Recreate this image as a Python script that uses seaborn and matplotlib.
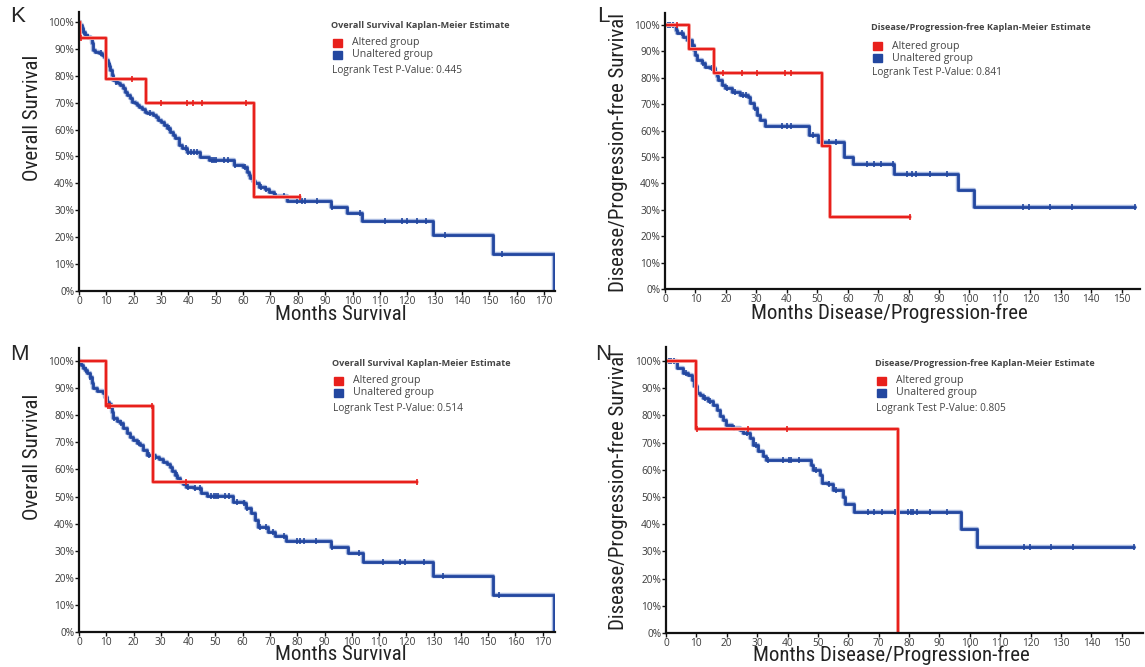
import numpy as np
import pandas as pd
import matplotlib
matplotlib.use("Agg")
import matplotlib.pyplot as plt
import matplotlib.patheffects as pe
from matplotlib import font_manager as fm
from matplotlib.patches import Rectangle
from matplotlib.ticker import PercentFormatter
import seaborn as sns

# ---- data (months, survival fraction) ----
# K: overall survival, gene 1
k_altered = [(0, 1.0), (0.5, 0.94), (9.9, 0.788), (24.4, 0.70), (63.8, 0.35)]
k_altered_cens = [0.8, 19.3, 30.0, 39.4, 41.6, 44.9, 61.2, 80.7]
k_unaltered = [(0, 1.0), (0.5, 0.99), (1.0, 0.976), (1.6, 0.964), (2.2, 0.952), (3.0, 0.945),
               (4.0, 0.939), (4.6, 0.92), (5.2, 0.896), (6.0, 0.89), (7.2, 0.883), (8.3, 0.877),
               (9.2, 0.868), (9.9, 0.859), (10.5, 0.847), (11.0, 0.835), (11.4, 0.822), (12.0, 0.803),
               (12.6, 0.784), (13.5, 0.778), (14.3, 0.772), (15.0, 0.766), (16.0, 0.754), (16.8, 0.741),
               (17.5, 0.729), (18.5, 0.716), (19.5, 0.704), (20.3, 0.697), (21.1, 0.691), (22.0, 0.685),
               (23.0, 0.678), (24.0, 0.666), (24.8, 0.660), (27.2, 0.654), (28.2, 0.645), (29.0, 0.636),
               (30.0, 0.627), (30.9, 0.617), (32.0, 0.605), (33.3, 0.592), (34.3, 0.580), (35.2, 0.568),
               (36.4, 0.543), (37.5, 0.530), (39.4, 0.518), (44.3, 0.499), (47.4, 0.487), (56.5, 0.468),
               (60.0, 0.462), (61.4, 0.444), (62.0, 0.432), (62.6, 0.419), (63.5, 0.41), (64.5, 0.40),
               (65.7, 0.388), (68.0, 0.378), (69.3, 0.369), (71.4, 0.353), (76.0, 0.336), (92.3, 0.311),
               (98.0, 0.289), (103.5, 0.262), (129.4, 0.208), (151.4, 0.136), (173.5, 0.0)]
k_unaltered_cens = [2.0, 3.2, 8.0, 11.2, 13.5, 26.0, 33.0, 39.0, 40.0, 41.0, 42.0, 43.0, 48.5, 49.5,
                    50.0, 53.0, 54.5, 57.0, 60.5, 66.5, 68.3, 72.0, 75.0, 79.7, 81.6, 82.5, 87.0,
                    92.6, 102.6, 111.7, 117.9, 119.8, 123.4, 126.8, 133.8, 154.6]

# L: disease/progression-free, gene 1
l_altered = [(0, 1.0), (8.0, 0.908), (16.2, 0.817), (51.7, 0.543), (54.3, 0.272)]
l_altered_cens = [3.8, 19.2, 25.2, 30.2, 39.3, 41.3, 80.6]
l_unaltered = [(0, 1.0), (3.6, 0.981), (4.0, 0.968), (6.0, 0.956), (7.1, 0.943), (8.8, 0.924),
               (9.6, 0.905), (10.0, 0.886), (10.4, 0.867), (12.1, 0.855), (13.2, 0.842), (14.8, 0.836),
               (16.4, 0.817), (17.0, 0.805), (17.5, 0.792), (18.6, 0.773), (19.7, 0.76), (21.9, 0.747),
               (24.7, 0.735), (27.4, 0.728), (28.0, 0.703), (29.1, 0.684), (30.2, 0.659), (31.3, 0.64),
               (32.9, 0.619), (47.3, 0.583), (50.4, 0.555), (58.7, 0.501), (61.9, 0.473), (75.1, 0.436),
               (96.2, 0.375), (101.4, 0.312)]
l_unaltered_cens = [1.0, 1.8, 2.5, 5.5, 9.0, 12.5, 15.5, 20.5, 23.0, 25.5, 26.5, 29.5, 38.5, 40.0,
                    41.5, 48.5, 52.0, 54.0, 56.0, 66.4, 68.5, 71.0, 74.8, 79.5, 81.0, 82.5, 87.0,
                    92.5, 117.6, 119.7, 126.6, 133.8, 154.4]

# M: overall survival, gene 2
m_altered = [(0, 1.0), (9.9, 0.834), (27.2, 0.555)]
m_altered_cens = [10.5, 11.5, 26.9, 39.4, 124.0]
m_unaltered = [(0, 1.0), (0.8, 0.985), (1.5, 0.975), (2.2, 0.967), (3.0, 0.955), (4.0, 0.942),
               (4.6, 0.92), (5.2, 0.899), (6.5, 0.89), (8.9, 0.881), (9.5, 0.866), (10.1, 0.85),
               (11.0, 0.84), (11.7, 0.83), (12.1, 0.81), (12.6, 0.788), (13.8, 0.779), (15.0, 0.77),
               (16.3, 0.752), (17.5, 0.733), (18.7, 0.72), (19.9, 0.708), (21.2, 0.699), (22.4, 0.69),
               (23.6, 0.671), (24.8, 0.653), (27.8, 0.647), (29.3, 0.637), (30.9, 0.628), (32.1, 0.619),
               (33.3, 0.61), (34.2, 0.594), (35.2, 0.579), (36.1, 0.567), (37.0, 0.555), (38.2, 0.545),
               (39.4, 0.536), (42.0, 0.53), (44.9, 0.512), (46.8, 0.502), (56.5, 0.481), (60.5, 0.475),
               (61.4, 0.456), (63.2, 0.438), (64.5, 0.413), (65.7, 0.389), (69.3, 0.37), (71.8, 0.354),
               (76.0, 0.337), (92.5, 0.312), (98.6, 0.29), (104.1, 0.259), (129.8, 0.207),
               (151.8, 0.137), (174.3, 0.0)]
m_unaltered_cens = [2.5, 4.2, 10.8, 13.0, 15.5, 22.0, 25.5, 28.0, 36.0, 40.0, 42.5, 44.5, 48.5, 49.5,
                    50.2, 51.0, 53.5, 55.0, 58.0, 60.5, 61.5, 66.5, 68.5, 71.3, 75.0, 80.0, 81.0,
                    82.5, 87.0, 92.6, 102.5, 111.5, 117.5, 119.5, 126.5, 133.5, 154.0]

# N: disease/progression-free, gene 2
n_altered = [(0, 1.0), (9.9, 0.749), (76.3, 0.0)]
n_altered_cens = [10.2, 27.0, 39.9]
n_unaltered = [(0, 1.0), (3.7, 0.973), (5.7, 0.955), (7.3, 0.949), (8.4, 0.93), (9.3, 0.906),
               (10.1, 0.881), (11.2, 0.875), (12.3, 0.863), (13.9, 0.854), (15.6, 0.838), (16.7, 0.82),
               (17.8, 0.798), (18.9, 0.783), (19.7, 0.765), (21.6, 0.753), (24.3, 0.746), (25.4, 0.734),
               (27.6, 0.716), (28.7, 0.691), (30.4, 0.667), (32.0, 0.651), (32.8, 0.634), (47.7, 0.616),
               (48.5, 0.599), (50.7, 0.581), (51.5, 0.553), (53.4, 0.548), (55.0, 0.526), (58.3, 0.501),
               (58.9, 0.473), (61.9, 0.446), (97.2, 0.381), (102.5, 0.317)]
n_unaltered_cens = [1.0, 1.8, 2.6, 6.5, 12.8, 14.5, 22.5, 26.8, 29.5, 33.5, 38.5, 40.5, 41.2, 43.8,
                    49.5, 53.5, 56.0, 66.5, 68.5, 71.0, 75.5, 79.8, 80.6, 81.4, 82.5, 87.0, 92.5,
                    117.8, 119.8, 126.6, 133.8, 154.0]

panel_letters = ["K", "L", "M", "N"]
legend_titles = ["Overall Survival Kaplan-Meier Estimate",
                 "Disease/Progression-free Kaplan-Meier Estimate",
                 "Overall Survival Kaplan-Meier Estimate",
                 "Disease/Progression-free Kaplan-Meier Estimate"]
p_values = ["0.445", "0.841", "0.514", "0.805"]
y_labels = ["Overall Survival", "Disease/Progression-free Survival",
            "Overall Survival", "Disease/Progression-free Survival"]
x_labels = ["Months Survival", "Months Disease/Progression-free",
            "Months Survival", "Months Disease/Progression-free"]
group_names = ["Altered group", "Unaltered group"]

RED = "#e8201c"
BLUE = "#2347a0"

W, H = 1145, 667
sns.set_style("ticks")
plt.rcParams["font.family"] = ["Open Sans", "DejaVu Sans"]

# the axis titles in the figure are set in a narrow grotesque; pick the
# narrowest face that is installed and size it to the same width
installed = {f.name for f in fm.fontManager.ttflist}
dejavu_cond = any(f.name == "DejaVu Sans" and "ondensed" in f.fname for f in fm.fontManager.ttflist)
if "Liberation Sans Narrow" in installed:
    title_font = dict(family=["Liberation Sans Narrow", "DejaVu Sans"], fontsize=15.5)
elif "Roboto Condensed" in installed:
    title_font = dict(family=["Roboto Condensed", "DejaVu Sans"], fontsize=15.0)
elif dejavu_cond:
    title_font = dict(family=["DejaVu Sans", "DejaVu Sans"], fontstretch="condensed", fontsize=13.0)
else:
    title_font = dict(family=["Roboto", "DejaVu Sans"], fontsize=12.8)

fig = plt.figure(figsize=(W / 100, H / 100), dpi=100)


def fx(x):
    return x / W


def fy(y):
    return 1 - y / H


def km_frame(steps, cens):
    t = [p[0] for p in steps]
    s = [p[1] for p in steps]
    if cens and max(cens) > t[-1]:
        t.append(max(cens))
        s.append(s[-1])
    return pd.DataFrame({"months": t, "surv": s})


def cens_y(steps, cens):
    t = np.array([p[0] for p in steps])
    s = np.array([p[1] for p in steps])
    idx = np.searchsorted(t, np.array(cens), side="right") - 1
    return s[idx]


panels = [
    dict(box=(79, 555, 12, 291), xmax=174, ymax=1.037, xticks=range(0, 171, 10),
         red=(k_altered, k_altered_cens), blue=(k_unaltered, k_unaltered_cens),
         letter=(18, 17), ylab=(32, 118), xlab=(341, 315), leg=(331, 25)),
    dict(box=(665, 1140, 13, 289), xmax=156, ymax=1.045, xticks=range(0, 151, 10),
         red=(l_altered, l_altered_cens), blue=(l_unaltered, l_unaltered_cens),
         letter=(603, 17), ylab=(618, 153), xlab=(889, 313), leg=(871, 28)),
    dict(box=(79, 555, 348, 632), xmax=174.5, ymax=1.048, xticks=range(0, 171, 10),
         red=(m_altered, m_altered_cens), blue=(m_unaltered, m_unaltered_cens),
         letter=(19, 354), ylab=(32, 457), xlab=(341, 654), leg=(332, 363)),
    dict(box=(666, 1143, 347, 633), xmax=157, ymax=1.051, xticks=range(0, 151, 10),
         red=(n_altered, n_altered_cens), blue=(n_unaltered, n_unaltered_cens),
         letter=(603, 354), ylab=(618, 491), xlab=(891, 655), leg=(875, 363)),
]

for i, p in enumerate(panels):
    l, r, t, b = p["box"]
    ax = fig.add_axes([fx(l), fy(b), (r - l) / W, (b - t) / H])

    for (steps, cens), col, halo, lw in [(p["blue"], BLUE, "#a8b9e0", 2.0),
                                         (p["red"], RED, "#f6aaa6", 1.6)]:
        df = km_frame(steps, cens)
        sns.lineplot(data=df, x="months", y="surv", ax=ax, color=col, lw=lw,
                     drawstyle="steps-post", estimator=None, sort=False,
                     path_effects=[pe.Stroke(linewidth=lw + 1.2, foreground=halo), pe.Normal()])
        ax.plot(cens, cens_y(steps, cens), ls="none", marker="|", ms=5, mew=1.2, color=col)

    ax.set_xlim(0, p["xmax"])
    ax.set_ylim(0, p["ymax"])
    ax.set_xticks(list(p["xticks"]))
    ax.set_yticks(np.arange(0, 1.01, 0.1))
    ax.yaxis.set_major_formatter(PercentFormatter(1.0, decimals=0))
    ax.set_xlabel("")
    ax.set_ylabel("")
    sns.despine(ax=ax)
    for side in ["left", "bottom"]:
        ax.spines[side].set_linewidth(1.6)
        ax.spines[side].set_color("#111111")
    ax.tick_params(axis="both", length=3, width=1, pad=0.5, labelsize=7.3,
                   colors="#111111", labelcolor="#3a3a3a")
    ax.set_facecolor("white")

    # panel letter and axis titles
    fig.text(fx(p["letter"][0]), fy(p["letter"][1]), panel_letters[i], fontsize=16,
             family=["Liberation Sans", "DejaVu Sans"], ha="center", va="center")
    fig.text(fx(p["ylab"][0]), fy(p["ylab"][1]), y_labels[i], rotation=90,
             ha="center", va="center", color="#222222", **title_font)
    fig.text(fx(p["xlab"][0]), fy(p["xlab"][1]), x_labels[i],
             ha="center", va="center", color="#222222", **title_font)

    # legend block
    lx, ly = p["leg"]
    fig.text(fx(lx), fy(ly), legend_titles[i], fontsize=6.6, fontweight="bold",
             color="#444444", ha="left", va="center")
    for j, (name, col) in enumerate(zip(group_names, [RED, BLUE])):
        yy = ly + 18 + j * 12
        fig.patches.append(Rectangle((fx(lx + 2), fy(yy + 4)), 9 / W, 8 / H,
                                     transform=fig.transFigure, color=col, zorder=3))
        fig.text(fx(lx + 21), fy(yy), name, fontsize=7.6, color="#444444",
                 ha="left", va="center")
    fig.text(fx(lx + 1), fy(ly + 45), "Logrank Test P-Value: " + p_values[i], fontsize=7.3,
             color="#444444", ha="left", va="center")

fig.savefig("out.png", dpi=100)
